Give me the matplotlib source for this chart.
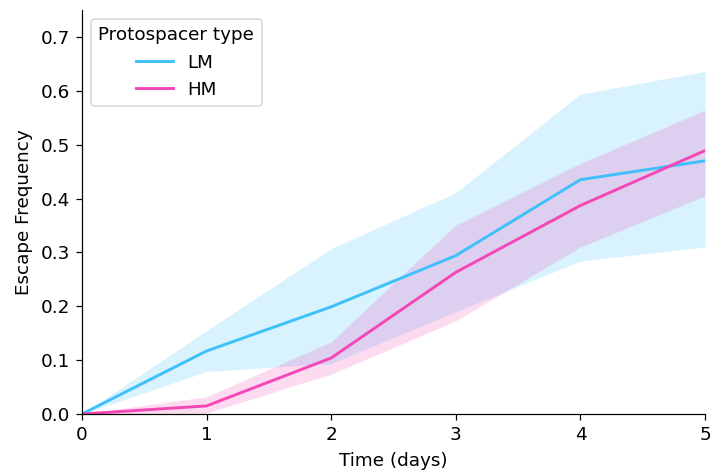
import matplotlib
matplotlib.use("Agg")
import matplotlib.pyplot as plt

days = [0, 1, 2, 3, 4, 5]

lm_mean = [0.0, 0.117, 0.199, 0.294, 0.435, 0.470]
lm_low = [0.0, 0.079, 0.094, 0.190, 0.284, 0.310]
lm_high = [0.0, 0.155, 0.307, 0.411, 0.594, 0.636]

hm_mean = [0.0, 0.015, 0.104, 0.263, 0.387, 0.489]
hm_low = [0.0, 0.002, 0.074, 0.173, 0.310, 0.405]
hm_high = [0.0, 0.032, 0.134, 0.351, 0.465, 0.564]

lm_color = "#3ec1fb"
hm_color = "#f447b5"

DPI = 110
fig = plt.figure(figsize=(712 / DPI, 472 / DPI), dpi=DPI)
ax = fig.add_axes([82 / 712, 58 / 472, 623 / 712, 404 / 472])

# Mean escape frequency with its confidence band for each protospacer type
ax.fill_between(days, lm_low, lm_high, color=lm_color, alpha=0.2, linewidth=0)
ax.plot(days, lm_mean, color=lm_color, linewidth=1.9, label="LM")
ax.fill_between(days, hm_low, hm_high, color=hm_color, alpha=0.2, linewidth=0)
ax.plot(days, hm_mean, color=hm_color, linewidth=1.9, label="HM")

ax.set_xlim(0, 5)
ax.set_ylim(0, 0.75)
ax.set_xticks(range(6))
ax.set_yticks([0.0, 0.1, 0.2, 0.3, 0.4, 0.5, 0.6, 0.7])
ax.set_xlabel("Time (days)", fontsize=12, labelpad=5)
ax.set_ylabel("Escape Frequency", fontsize=12, labelpad=5)
ax.tick_params(labelsize=12, length=4, pad=4)
ax.spines["top"].set_visible(False)
ax.spines["right"].set_visible(False)

ax.legend(title="Protospacer type", loc="upper left", fontsize=12, title_fontsize=12)

fig.savefig("out.png", dpi=DPI)
